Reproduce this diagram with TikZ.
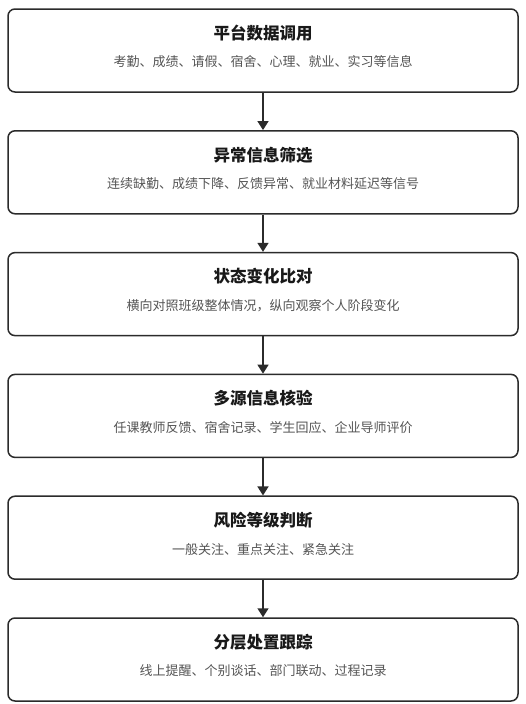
\documentclass[tikz,border=0pt]{standalone}
\usepackage{fontspec}
\newfontfamily\cjk{Noto Sans CJK SC}
\usetikzlibrary{arrows.meta}
\definecolor{edge}{HTML}{2B2B2B}
\definecolor{subgray}{HTML}{555555}
\tikzset{
  stepbox/.style={draw=edge, line width=1.5pt, rounded corners=7pt, fill=white,
    minimum width=510pt, minimum height=83pt, inner sep=0pt},
  titletext/.style={font=\cjk\bfseries\fontsize{16.5}{18}\selectfont, text=black!90, inner sep=0pt},
  subtext/.style={font=\cjk\fontsize{13}{15}\selectfont, text=subgray, inner sep=0pt},
  flow/.style={draw=edge, line width=1.5pt, -{Triangle[width=11pt,length=9pt]}}
}
\begin{document}
\begin{tikzpicture}[x=1pt,y=-1pt]
\useasboundingbox (0,0) rectangle (526,704);
\foreach \i/\t/\s in {
  1/平台数据调用/考勤、成绩、请假、宿舍、心理、就业、实习等信息,
  2/异常信息筛选/连续缺勤、成绩下降、反馈异常、就业材料延迟等信号,
  3/状态变化比对/横向对照班级整体情况，纵向观察个人阶段变化,
  4/多源信息核验/任课教师反馈、宿舍记录、学生回应、企业导师评价,
  5/风险等级判断/一般关注、重点关注、紧急关注,
  6/分层处置跟踪/线上提醒、个别谈话、部门联动、过程记录}{
  \node[stepbox] (b\i) at (263, {50.5 + (\i-1)*121.8}) {};
  \node[titletext] (t\i) at ([yshift=17.5pt]b\i.center) {\t};
  \node[subtext] (s\i) at ([yshift=-11.5pt]b\i.center) {\s};
}
\foreach \i [evaluate=\i as \j using int(\i+1)] in {1,...,5}{
  \draw[flow] (b\i.south) -- (b\j.north);
}
\end{tikzpicture}
\end{document}
